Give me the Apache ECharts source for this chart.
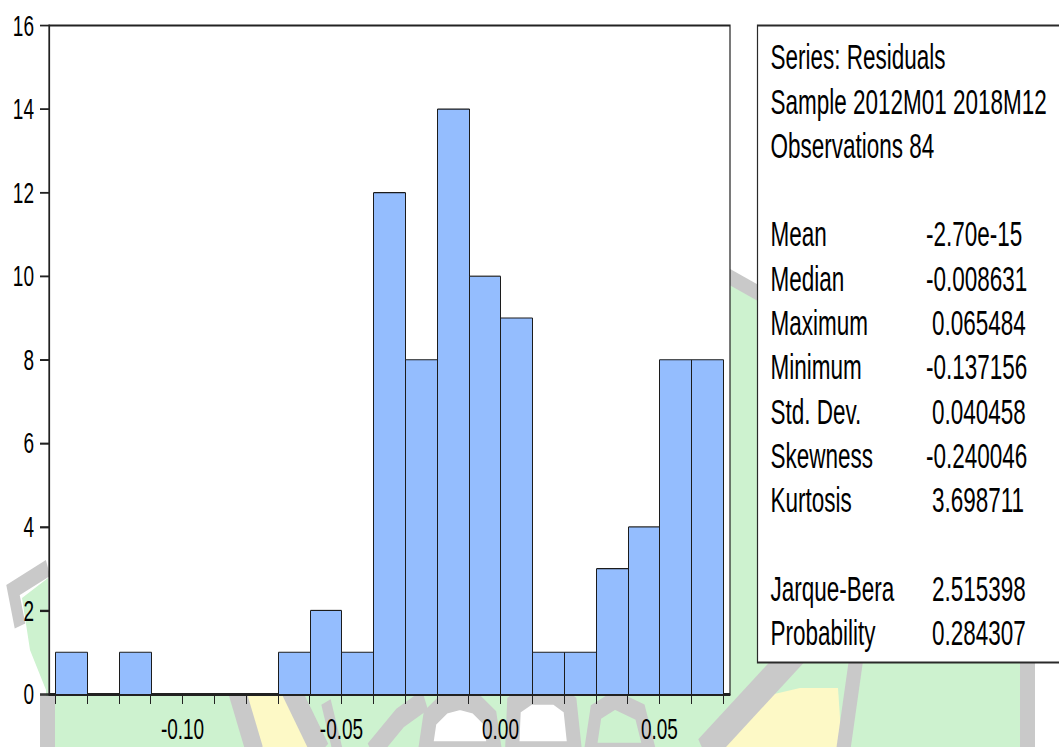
<!DOCTYPE html>
<html>
<head>
<meta charset="utf-8">
<script src="https://cdn.jsdelivr.net/npm/echarts@6/dist/echarts.min.js"></script>
<style>
  html, body { margin: 0; padding: 0; background: #fff; overflow: hidden; }
  #wrap { width: 1059px; height: 747px; overflow: hidden; position: relative; }
  /* EViews-style output: the whole graph is stretched vertically */
  #chart { width: 1059px; height: 482px; transform: scaleY(1.549793); transform-origin: 0 0; }
</style>
</head>
<body>
<div id="wrap"><div id="chart"></div></div>
<script>
// Histogram of residuals: bin edges (width 0.01) and counts per bin
const binEdges = [-0.14, -0.13, -0.12, -0.11, -0.10, -0.09, -0.08, -0.07, -0.06, -0.05, -0.04,
                  -0.03, -0.02, -0.01, 0.00, 0.01, 0.02, 0.03, 0.04, 0.05, 0.06, 0.07];
const binCounts = [1, 0, 1, 0, 0, 0, 0, 1, 2, 1, 12, 8, 14, 10, 9, 1, 1, 3, 4, 8, 8];
const xLabelValues = [-0.10, -0.05, 0.00, 0.05];
const yTickValues = [0, 2, 4, 6, 8, 10, 12, 14, 16];

// Descriptive statistics panel
const headerLines = ['Series: Residuals', 'Sample 2012M01 2018M12', 'Observations 84'];
const statNames = ['Mean', 'Median', 'Maximum', 'Minimum', 'Std. Dev.', 'Skewness', 'Kurtosis'];
const statValues = ['-2.70e-15', '-0.008631', '0.065484', '-0.137156', '0.040458', '-0.240046', '3.698711'];
const testNames = ['Jarque-Bera', 'Probability'];
const testValues = ['2.515398', '0.284307'];

const X_MIN = -0.142, X_MAX = 0.0722;
const K = 747 / 482;              // vertical stretch applied to the chart element
const sy = v => v / K;            // page-pixel y -> chart y
const FONT = '"Liberation Sans", Arial, Helvetica, sans-serif';
const BAR_FILL = '#94bdfe';
const EDGE = '#1c1c1c';
const GREEN = '#cdf2cf';
const GRAY = '#c9c9c9';
const YELLOW = '#fdf9c6';

// plot frame in chart pixels
const PLOT = { left: 49, right: 730, top: sy(25.5), bottom: sy(694) };

const chart = echarts.init(document.getElementById('chart'), null, { renderer: 'svg' });

function renderBin(params, api) {
  const n = api.value(2);
  if (!n) return null;
  const a = api.coord([api.value(0), 0]);
  const b = api.coord([api.value(1), n]);
  const xl = Math.round(a[0]) + 0.5, xr = Math.round(b[0]) + 0.5;
  const yb = a[1], yt = b[1];
  return {
    type: 'group',
    children: [
      { type: 'rect', shape: { x: xl, y: yt, width: xr - xl, height: yb - yt }, style: { fill: BAR_FILL } },
      { type: 'line', shape: { x1: xl, y1: yt, x2: xl, y2: yb }, style: { stroke: EDGE, lineWidth: 1 } },
      { type: 'line', shape: { x1: xr, y1: yt, x2: xr, y2: yb }, style: { stroke: EDGE, lineWidth: 1 } },
      { type: 'line', shape: { x1: xl, y1: yt, x2: xr, y2: yt }, style: { stroke: EDGE, lineWidth: 0.75 } }
    ]
  };
}

// faint logo watermark behind the graph
function pts(list) { return list.map(p => [p[0], sy(p[1])]); }
const watermark = [
  { type: 'polygon', z: -10, shape: { points: pts([[22,598],[48,578],[48,694],[730,694],[730,282],[757,292],[757,663],
      [1030,663],[1030,747],[46,747],[46,690],[30,650]]) }, style: { fill: GREEN } },
  { type: 'polyline', z: -9, shape: { points: pts([[48,568],[13,590],[20,626]]) }, style: { stroke: GRAY, lineWidth: 11, fill: null } },
  { type: 'rect', z: -9, shape: { x: 40, y: sy(696), width: 15, height: sy(52) }, style: { fill: GRAY } },
  { type: 'polygon', z: -9, shape: { points: pts([[245,694],[290,694],[315,747],[262,747]]) }, style: { fill: YELLOW } },
  { type: 'polyline', z: -8, shape: { points: pts([[236,688],[255,752]]) }, style: { stroke: GRAY, lineWidth: 17 } },
  { type: 'polyline', z: -8, shape: { points: pts([[290,688],[321,752]]) }, style: { stroke: GRAY, lineWidth: 18 } },
  { type: 'polyline', z: -8, shape: { points: pts([[326,702],[338,752]]) }, style: { stroke: GRAY, lineWidth: 10 } },
  { type: 'polyline', z: -8, shape: { points: pts([[372,752],[400,718],[425,700]]) }, style: { stroke: GRAY, lineWidth: 14, fill: null } },
  { type: 'polygon', z: -8, shape: { points: pts([[425,752],[430,718],[445,703],[460,699],[475,703],[490,718],[495,752]]) },
    style: { fill: '#fff', stroke: GRAY, lineWidth: 14 } },
  { type: 'polygon', z: -8, shape: { points: pts([[512,752],[514,705],[530,694],[555,694],[570,705],[575,752]]) },
    style: { fill: '#fff', stroke: GRAY, lineWidth: 14 } },
  { type: 'polygon', z: -8, shape: { points: pts([[590,752],[596,712],[615,700],[640,712],[650,752]]) },
    style: { fill: GREEN, stroke: GRAY, lineWidth: 12 } },
  { type: 'polygon', z: -9, shape: { points: pts([[745,722],[770,695],[800,688],[838,688],[842,747],[722,747]]) }, style: { fill: YELLOW } },
  { type: 'polyline', z: -8, shape: { points: pts([[798,650],[704,752]]) }, style: { stroke: GRAY, lineWidth: 20 } },
  { type: 'polyline', z: -8, shape: { points: pts([[856,660],[843,752]]) }, style: { stroke: GRAY, lineWidth: 14 } },
  { type: 'polyline', z: -8, shape: { points: pts([[728,276],[760,294]]) }, style: { stroke: GRAY, lineWidth: 10 } },
  { type: 'rect', z: -8, shape: { x: 1020, y: sy(663), width: 15, height: sy(84) }, style: { fill: GRAY } },
  // white plotting area on top of the watermark
  { type: 'rect', z: -5, shape: { x: PLOT.left, y: PLOT.top, width: PLOT.right - PLOT.left, height: PLOT.bottom - PLOT.top },
    style: { fill: '#fff' } }
];

// statistics box and its text
const statsGraphics = [
  { type: 'rect', z: 20, shape: { x: 757.5, y: sy(25.5), width: 330, height: sy(662.5 - 25.5) },
    style: { fill: '#fff', stroke: '#2a2a2a', lineWidth: 1.2 } }
];
const lineY = i => sy(56.8 + i * 44.3);
function addText(str, x, i) {
  statsGraphics.push({
    type: 'text', z: 21, x: x, y: lineY(i),
    style: { text: str, fill: '#000', fontSize: 22.5, fontFamily: FONT,
             align: 'left', verticalAlign: 'middle', textAlign: 'left', textVerticalAlign: 'middle' }
  });
}
const valueX = v => (v.charAt(0) === '-' ? 926 : 932);
headerLines.forEach((t, i) => addText(t, 770.5, i));
statNames.forEach((t, i) => { addText(t, 770.5, 4 + i); addText(statValues[i], valueX(statValues[i]), 4 + i); });
testNames.forEach((t, i) => { addText(t, 770.5, 12 + i); addText(testValues[i], valueX(testValues[i]), 12 + i); });

chart.setOption({
  animation: false,
  backgroundColor: '#fff',
  grid: {
    left: PLOT.left, right: 1059 - PLOT.right, top: PLOT.top, bottom: 482 - PLOT.bottom,
    show: true, backgroundColor: 'transparent', borderColor: '#222', borderWidth: 1.2
  },
  xAxis: {
    type: 'value', min: X_MIN, max: X_MAX,
    position: 'bottom',
    axisLine: { show: true, onZero: false, lineStyle: { color: '#222', width: 1.2 } },
    splitLine: { show: false },
    axisTick: { show: true, inside: false, length: sy(10), customValues: binEdges,
                lineStyle: { color: '#222', width: 1 } },
    axisLabel: { show: true, customValues: xLabelValues, margin: 13,
                 formatter: v => v.toFixed(2),
                 color: '#000', fontSize: 19, fontFamily: FONT }
  },
  yAxis: {
    type: 'value', min: 0, max: 16, interval: 2,
    position: 'left',
    axisLine: { show: true, onZero: false, lineStyle: { color: '#222', width: 1.2 } },
    splitLine: { show: false },
    axisTick: { show: true, inside: false, length: 9, lineStyle: { color: '#222', width: 0.9 } },
    axisLabel: { show: true, margin: 15, color: '#000', fontSize: 19, fontFamily: FONT }
  },
  series: [{
    type: 'custom',
    renderItem: renderBin,
    encode: { x: [0, 1], y: 2 },
    data: binCounts.map((c, i) => [binEdges[i], binEdges[i + 1], c]),
    z: 5
  }]
});

// outward tick marks on the left frame, placed through the count axis scale
const yTickMarks = yTickValues.map(v => {
  const p = chart.convertToPixel({ xAxisIndex: 0, yAxisIndex: 0 }, [X_MIN, v]);
  return { type: 'line', z: 30, shape: { x1: p[0] - 9, y1: p[1], x2: p[0], y2: p[1] },
           style: { stroke: '#222', lineWidth: 0.9 } };
});

chart.setOption({ graphic: { elements: watermark.concat(statsGraphics, yTickMarks) } });
</script>
</body>
</html>
